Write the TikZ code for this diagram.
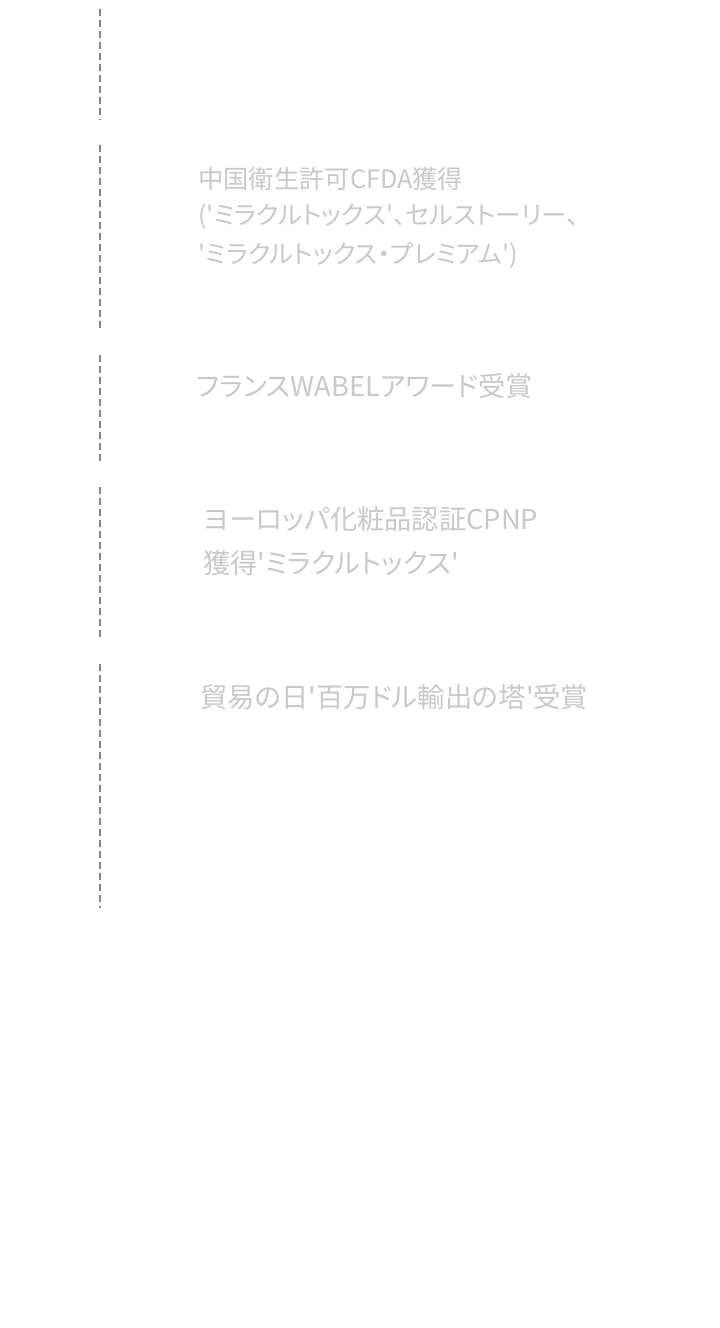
\documentclass[tikz,border=0pt]{standalone}
\usepackage{fontspec}
\newfontfamily\jpfont{Noto Sans CJK JP}[RawFeature=+palt]
\begin{document}
\begin{tikzpicture}[x=1pt,y=-1pt,
  milestone/.style={anchor=west,inner sep=0pt,text=txtgray,font=\jpfont\fontsize{25.3}{30}\selectfont},
  bigmilestone/.style={milestone,font=\jpfont\fontsize{27.3}{32}\selectfont},
  tline/.style={draw=linegray,line width=1.3pt,dash pattern=on 7pt off 4pt}]
\definecolor{txtgray}{HTML}{C8C8C8}
\definecolor{linegray}{HTML}{858585}
\useasboundingbox (0,0) rectangle (720,1328);
% timeline segments
\coordinate (s1a) at (100,9);   \coordinate (s1b) at (100,120);
\coordinate (s2a) at (100,145); \coordinate (s2b) at (100,330);
\coordinate (s3a) at (100,355); \coordinate (s3b) at (100,462);
\coordinate (s4a) at (100,487); \coordinate (s4b) at (100,640);
\coordinate (s5a) at (100,664); \coordinate (s5b) at (100,908);
\draw[tline] (s1a) -- (s1b);
\draw[tline] (s2a) -- (s2b);
\draw[tline] (s3a) -- (s3b);
\draw[tline] (s4a) -- (s4b);
\draw[tline] (s5a) -- (s5b);
% texts
\node[milestone] (t1a) at (198,179) {中国衛生許可CFDA獲得};
\node[milestone] (t1b) at (198,217) {('ミラクルトックス'、セルストーリー、};
\node[milestone] (t1c) at (198,255) {'ミラクルトックス・プレミアム')};
\node[bigmilestone] (t2) at (196,386) {フランスWABELアワード受賞};
\node[bigmilestone] (t3a) at (203,519) {ヨーロッパ化粧品認証CPNP};
\node[bigmilestone] (t3b) at (203,563) {獲得'ミラクルトックス'};
\node[bigmilestone] (t4) at (200,697) {貿易の日'百万ドル輸出の塔'受賞};
\end{tikzpicture}
\end{document}
